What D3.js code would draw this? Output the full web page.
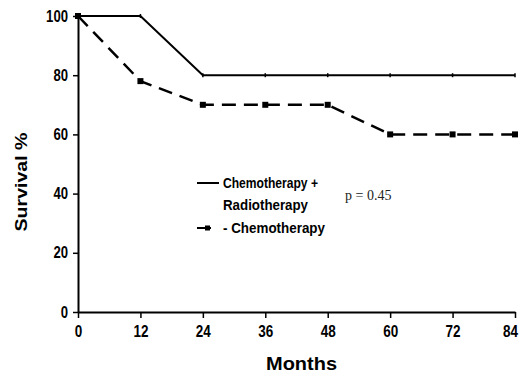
<!DOCTYPE html>
<html>
<head>
<meta charset="utf-8">
<script src="https://cdn.jsdelivr.net/npm/d3@7"></script>
<style>
  body { margin: 0; background: #fff; }
  svg { display: block; }
  .tick text { font-family: "Liberation Sans", Arial, sans-serif; font-weight: bold; }
</style>
</head>
<body>
<div id="graph"></div>
<script>
// months on the x axis
const months = [0, 12, 24, 36, 48, 60, 72, 84];
const yTicks = [0, 20, 40, 60, 80, 100];

// survival curves
const chemoRadio = [100, 100, 80, 80, 80, 80, 80, 80];
const chemo = [100, 78, 70, 70, 70, 60, 60, 60];

const margin = { top: 16, right: 6, bottom: 66, left: 78 };
const width = 521 - margin.left - margin.right;
const height = 378 - margin.top - margin.bottom;

const svg = d3.select("#graph")
  .append("svg")
  .attr("width", 521)
  .attr("height", 378)
  .append("g")
  .attr("transform", `translate(${margin.left},${margin.top})`);

const x = d3.scaleLinear().domain([0, 84]).range([0, width]);
const y = d3.scaleLinear().domain([0, 100]).range([height, 0]);

// condensed look for the scanned labels
function narrow(sel, perChar) {
  sel.each(function () {
    const t = d3.select(this);
    t.attr("textLength", t.text().length * perChar)
      .attr("lengthAdjust", "spacingAndGlyphs");
  });
}

// axes
const xAxis = svg.append("g")
  .attr("transform", `translate(0,${height})`)
  .call(d3.axisBottom(x).tickValues(months).tickSize(6).tickPadding(8).tickSizeOuter(0));
xAxis.selectAll("text").style("font-size", "16px").attr("fill", "#000").call(narrow, 7.5);
xAxis.selectAll("text").filter(d => d === 84).attr("dx", -5);

const yAxis = svg.append("g")
  .call(d3.axisLeft(y).tickValues(yTicks).tickSize(5).tickPadding(5).tickSizeOuter(0));
yAxis.selectAll("text").style("font-size", "16px").attr("fill", "#000").call(narrow, 7.3);

svg.selectAll(".domain").attr("stroke", "#000").attr("stroke-width", 2);
svg.selectAll(".tick line").attr("stroke", "#000").attr("stroke-width", 1.5);

const line = d3.line()
  .x((d, i) => x(months[i]))
  .y(d => y(d));

// chemotherapy + radiotherapy (solid)
svg.append("path")
  .datum(chemoRadio)
  .attr("fill", "none")
  .attr("stroke", "#000")
  .attr("stroke-width", 2)
  .attr("d", line);

svg.selectAll(".cr-mark")
  .data(chemoRadio)
  .enter()
  .append("line")
  .attr("x1", (d, i) => x(months[i]))
  .attr("x2", (d, i) => x(months[i]))
  .attr("y1", d => y(d) - 2)
  .attr("y2", d => y(d) + 2)
  .attr("stroke", "#000")
  .attr("stroke-width", 1.5);

// chemotherapy (dashed with squares)
svg.append("path")
  .datum(chemo)
  .attr("fill", "none")
  .attr("stroke", "#000")
  .attr("stroke-width", 2.5)
  .attr("stroke-dasharray", "14,8")
  .attr("d", line);

svg.selectAll(".c-mark")
  .data(chemo)
  .enter()
  .append("rect")
  .attr("x", (d, i) => x(months[i]) - 3)
  .attr("y", d => y(d) - 3)
  .attr("width", 6)
  .attr("height", 6)
  .attr("fill", "#000");

// axis titles
svg.append("text")
  .attr("x", x(42) + 5)
  .attr("y", height + 58)
  .attr("text-anchor", "middle")
  .attr("font-family", "Liberation Sans, Arial, sans-serif")
  .attr("font-weight", "bold")
  .attr("font-size", 18)
  .attr("textLength", 71)
  .attr("lengthAdjust", "spacingAndGlyphs")
  .text("Months");

svg.append("text")
  .attr("transform", `translate(${27 - margin.left},${182 - margin.top}) rotate(-90)`)
  .attr("text-anchor", "middle")
  .attr("font-family", "Liberation Sans, Arial, sans-serif")
  .attr("font-weight", "bold")
  .attr("font-size", 17)
  .attr("textLength", 99)
  .attr("lengthAdjust", "spacingAndGlyphs")
  .text("Survival %");

// legend
const legend = svg.append("g").attr("transform", `translate(${197 - margin.left},${183 - margin.top})`);
const legendFont = t => t
  .attr("font-family", "Liberation Sans, Arial, sans-serif")
  .attr("font-weight", "bold").attr("font-size", 15)
  .attr("lengthAdjust", "spacingAndGlyphs");
legend.append("line")
  .attr("x1", 0).attr("x2", 22).attr("y1", 0).attr("y2", 0)
  .attr("stroke", "#000").attr("stroke-width", 2);
legend.append("text")
  .attr("x", 26).attr("y", 5).call(legendFont)
  .attr("textLength", 95)
  .text("Chemotherapy +");
legend.append("text")
  .attr("x", 26).attr("y", 27).call(legendFont)
  .attr("textLength", 85)
  .text("Radiotherapy");
legend.append("line")
  .attr("x1", 0).attr("x2", 14).attr("y1", 45).attr("y2", 45)
  .attr("stroke", "#000").attr("stroke-width", 2);
legend.append("rect")
  .attr("x", 8).attr("y", 42.5).attr("width", 5).attr("height", 5).attr("fill", "#000");
legend.append("text")
  .attr("x", 26).attr("y", 50).call(legendFont)
  .attr("textLength", 102)
  .text("- Chemotherapy");

svg.append("text")
  .attr("x", 345 - margin.left)
  .attr("y", 200 - margin.top)
  .attr("font-family", "Liberation Serif, Times New Roman, serif")
  .attr("font-size", 14)
  .attr("fill", "#222")
  .text("p = 0.45");
</script>
</body>
</html>
